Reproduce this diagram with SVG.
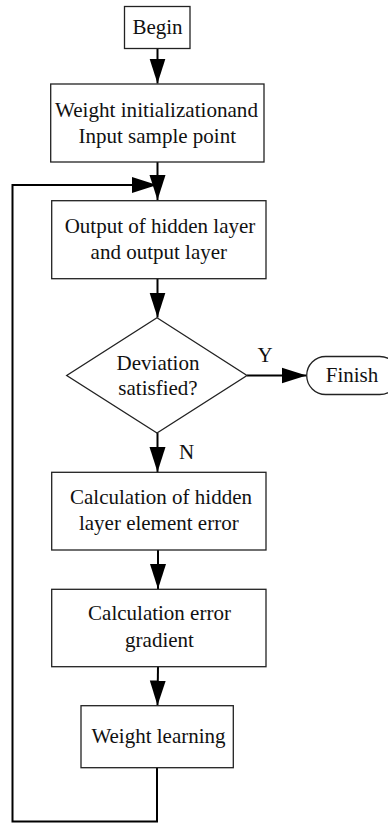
<svg xmlns="http://www.w3.org/2000/svg" width="388" height="823" viewBox="0 0 388 823">
<defs>
<marker id="ah" markerUnits="userSpaceOnUse" markerWidth="26" markerHeight="18" viewBox="0 0 26 18" refX="25" refY="9" orient="auto">
<path d="M0,1 L25,9 L0,17 Z" fill="#000"/>
</marker>
<style>
.box{fill:#fff;stroke:#222;stroke-width:1.3}
.t{font-family:"Liberation Serif","Times New Roman",serif;font-size:21px;fill:#111;text-anchor:middle}
.c{fill:none;stroke:#000;stroke-width:2}
</style>
</defs>
<rect width="388" height="823" fill="#fff"/>
<g id="connectors">
<line class="c" x1="157.5" y1="48.5" x2="157.5" y2="83.5" marker-end="url(#ah)"/>
<line class="c" x1="157.5" y1="162" x2="157.5" y2="200" marker-end="url(#ah)"/>
<polyline class="c" points="157,767.5 157,821.5 12.5,821.5 12.5,185 157,185" marker-end="url(#ah)"/>
<line class="c" x1="157.5" y1="278.5" x2="157.5" y2="317.5" marker-end="url(#ah)"/>
<line class="c" x1="247" y1="375.5" x2="306.5" y2="375.5" marker-end="url(#ah)"/>
<line class="c" x1="157.5" y1="433" x2="157.5" y2="472" marker-end="url(#ah)"/>
<line class="c" x1="158" y1="550" x2="158" y2="589" marker-end="url(#ah)"/>
<line class="c" x1="158" y1="666.5" x2="157.5" y2="705.5" marker-end="url(#ah)"/>
<text class="t" x="265" y="362">Y</text>
<text class="t" x="186.5" y="459">N</text>
</g>
<g id="begin">
<rect class="box" x="124.5" y="6.5" width="65.5" height="42"/>
<text class="t" x="157.5" y="34">Begin</text>
</g>
<g id="init">
<rect class="box" x="50.7" y="84" width="213.3" height="78"/>
<text class="t" x="156.5" y="117" textLength="203" lengthAdjust="spacingAndGlyphs">Weight initializationand</text>
<text class="t" x="157.3" y="143">Input sample point</text>
</g>
<g id="output">
<rect class="box" x="51.7" y="200.7" width="214.3" height="78"/>
<text class="t" x="160" y="233">Output of hidden layer</text>
<text class="t" x="158.8" y="259">and output layer</text>
</g>
<g id="decision">
<polygon class="box" points="157,317.7 247,375.5 157,433 66.7,375.5"/>
<text class="t" x="158" y="370">Deviation</text>
<text class="t" x="158" y="395">satisfied?</text>
</g>
<g id="finish">
<rect class="box" x="306.7" y="356.5" width="92" height="38" rx="19" ry="19"/>
<text class="t" x="352" y="382">Finish</text>
</g>
<g id="hidden-error">
<rect class="box" x="51.7" y="472.3" width="214.3" height="77.7"/>
<text class="t" x="161" y="504">Calculation of hidden</text>
<text class="t" x="158.8" y="530">layer element error</text>
</g>
<g id="gradient">
<rect class="box" x="51.7" y="589.3" width="214.3" height="77.4"/>
<text class="t" x="159.5" y="620">Calculation error</text>
<text class="t" x="159.5" y="646.7">gradient</text>
</g>
<g id="learning">
<rect class="box" x="81" y="705.7" width="152.3" height="62"/>
<text class="t" x="158.5" y="742.7">Weight learning</text>
</g>
</svg>
